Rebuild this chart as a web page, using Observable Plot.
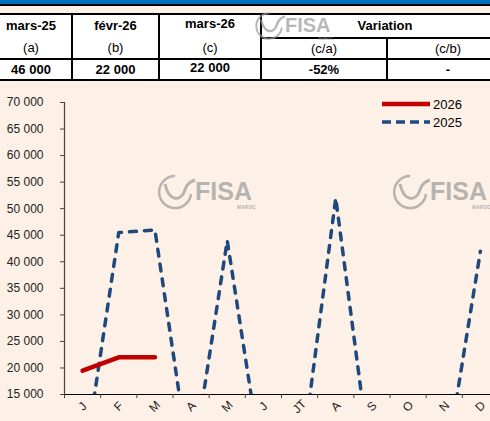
<!DOCTYPE html>
<html>
<head>
<meta charset="utf-8">
<script src="https://cdn.jsdelivr.net/npm/d3@7"></script>
<script src="https://cdn.jsdelivr.net/npm/@observablehq/plot@0.6"></script>
<style>
  html, body { margin: 0; padding: 0; }
  body { width: 490px; height: 421px; overflow: hidden; background: #FDF1E7; font-family: "Liberation Sans", Arial, sans-serif; }
  #wrap { position: relative; width: 490px; height: 421px; overflow: hidden; }
  .abs { position: absolute; }
  .cell { position: absolute; background: #fff; color: #000; text-align: center; font-size: 13px; }
  .b { font-weight: bold; }
  .hl { position: absolute; background: #000; height: 2px; }
  .vl { position: absolute; background: #000; width: 2px; }
</style>
</head>
<body>
<div id="wrap">
  <div class="abs" style="left:0;top:0;width:490px;height:4px;background:#0070C0"></div>
  <div class="abs" style="left:0;top:4px;width:490px;height:2px;background:#000"></div>
  <div id="table"></div>
  <div id="chart" class="abs" style="left:0;top:80px;width:498px;height:341px;overflow:hidden"></div>
  <div id="legend"></div>
  <div id="marks"></div>
</div>
<script>
// ---- data ----
const months = ["J", "F", "M", "A", "M", "J", "JT", "A", "S", "O", "N", "D"];
const values2026 = [19500, 22000, 22000];
const values2025 = [0, 45500, 46000, 0, 44000, 0, 0, 52000, 0, 0, 0, 42000];
const yTicks = [15000, 20000, 25000, 30000, 35000, 40000, 45000, 50000, 55000, 60000, 65000, 70000];
const seriesNames = ["2026", "2025"];
const tableHeaders = ["mars-25", "févr-26", "mars-26", "Variation"];
const tableSubs = ["(a)", "(b)", "(c)", "(c/a)", "(c/b)"];
const tableValues = ["46 000", "22 000", "22 000", "-52%", "-"];

// ---- table (HTML) ----
const T = document.getElementById("table");
const cols = [[-10, 72], [72, 159], [159, 261], [261, 387], [387, 509]];
function cell(x0, x1, y0, y1, text, bold, dy) {
  const d = document.createElement("div");
  d.className = "cell" + (bold ? " b" : "");
  d.style.left = x0 + "px"; d.style.width = (x1 - x0) + "px";
  d.style.top = y0 + "px"; d.style.height = (y1 - y0) + "px";
  d.style.lineHeight = (y1 - y0 + 2 * (dy || 0)) + "px";
  d.textContent = text;
  T.appendChild(d);
}
cell(cols[0][0], cols[0][1], 15, 37, tableHeaders[0], true, 0);
cell(cols[1][0], cols[1][1], 15, 37, tableHeaders[1], true, 0);
cell(cols[2][0], cols[2][1], 15, 37, tableHeaders[2], true, -2);
cell(cols[3][0], cols[4][1], 15, 37, tableHeaders[3], true, 0);
cell(cols[0][0], cols[0][1], 37, 58, tableSubs[0], false, 0);
cell(cols[1][0], cols[1][1], 37, 58, tableSubs[1], false, 0);
cell(cols[2][0], cols[2][1], 37, 58, tableSubs[2], false, 0);
cell(cols[3][0], cols[3][1], 39, 58, tableSubs[3], false, 0);
cell(cols[4][0], cols[4][1], 39, 58, tableSubs[4], false, 0);
for (let i = 0; i < 5; i++) cell(cols[i][0], cols[i][1], 60, 79, tableValues[i], true, i === 2 ? -2 : 0);
function hl(x0, x1, y) { const d = document.createElement("div"); d.className = "hl"; d.style.left = x0 + "px"; d.style.width = (x1 - x0) + "px"; d.style.top = y + "px"; T.appendChild(d); }
function vl(x, y0, y1) { const d = document.createElement("div"); d.className = "vl"; d.style.left = (x - 1) + "px"; d.style.top = y0 + "px"; d.style.height = (y1 - y0) + "px"; T.appendChild(d); }
hl(-10, 520, 13); hl(261, 520, 37); hl(-10, 520, 58); hl(-10, 520, 79);
vl(72, 13, 81); vl(159, 13, 81); vl(261, 13, 81); vl(387, 37, 81);

// ---- chart ----
const fmt = d => d3.format(",")(d).replace(/,/g, " ");
const d2025 = values2025.map((v, i) => ({i, v}));
const d2026 = values2026.map((v, i) => ({i, v}));
const boundaries = d3.range(months.length + 1).map(k => k - 0.5);

const chart = Plot.plot({
  width: 498, height: 341,
  marginLeft: 64, marginRight: 0, marginTop: 22, marginBottom: 27,
  x: {domain: [-0.5, 11.5], axis: null},
  y: {domain: [15000, 70000], axis: null},
  style: {background: "transparent", fontFamily: "Liberation Sans, Arial, sans-serif", fontSize: "12px", color: "#222", overflow: "visible"},
  marks: [
    Plot.axisY({ticks: yTicks, tickFormat: fmt, tickSize: 4, tickPadding: 17, stroke: "#444", fill: "#222", fontSize: 12, label: null}),
    Plot.ruleX([-0.5], {stroke: "#444", strokeWidth: 1.2}),
    Plot.ruleY([15000], {stroke: "#000", strokeWidth: 1.2}),
    Plot.axisX({ticks: boundaries, tickFormat: () => "", tickSize: 4, stroke: "#444", label: null}),
    Plot.text(months, {x: (d, i) => i, frameAnchor: "bottom", dy: 12, rotate: -45, text: d => d, fontSize: 12, fill: "#222", textAnchor: "middle", lineAnchor: "middle"}),
    Plot.line(d2025, {x: "i", y: "v", stroke: "#1F497D", strokeWidth: 3.5, strokeDasharray: "7,8", strokeLinecap: "round", clip: true}),
    Plot.line(d2026, {x: "i", y: "v", stroke: "#C00000", strokeWidth: 4.5, strokeLinecap: "round", clip: true})
  ]
});
chart.style.maxWidth = "none";
chart.style.height = "341px";
document.getElementById("chart").appendChild(chart);

// ---- legend ----
const L = document.getElementById("legend");
L.innerHTML = `<svg class="abs" style="left:370px;top:92px" width="120" height="40">
  <line x1="12" x2="60" y1="12" y2="12" stroke="#C00000" stroke-width="4.5"/>
  <text x="63" y="17" font-size="13" font-family="Liberation Sans, Arial" fill="#000">${seriesNames[0]}</text>
  <line x1="12" x2="60" y1="30" y2="30" stroke="#1F497D" stroke-width="3.5" stroke-dasharray="9,5"/>
  <text x="63" y="35" font-size="13" font-family="Liberation Sans, Arial" fill="#000">${seriesNames[1]}</text>
</svg>`;

// ---- watermark logos ----
const M = document.getElementById("marks");
function logo(x, y, s) {
  M.innerHTML += `<svg class="abs" style="left:${x}px;top:${y}px;opacity:0.7" width="${110*s}" height="${40*s}" viewBox="0 0 110 40">
    <path d="M20 4 A16 16 0 1 0 36 22" fill="none" stroke="#9a9a9a" stroke-width="2.5"/>
    <path d="M10 12 C14 30, 26 30, 30 18 C32 10, 40 8, 40 8" fill="none" stroke="#9a9a9a" stroke-width="3"/>
    <text x="40" y="28" font-size="25" font-weight="bold" font-family="Liberation Sans, Arial" fill="#9a9a9a">FISA</text>
    <text x="82" y="37" font-size="5" font-weight="bold" font-family="Liberation Sans, Arial" fill="#9a9a9a">MAROC</text>
  </svg>`;
}
logo(155, 172, 1);
logo(390, 172, 1);
logo(253, 10, 0.8);
</script>
</body>
</html>
